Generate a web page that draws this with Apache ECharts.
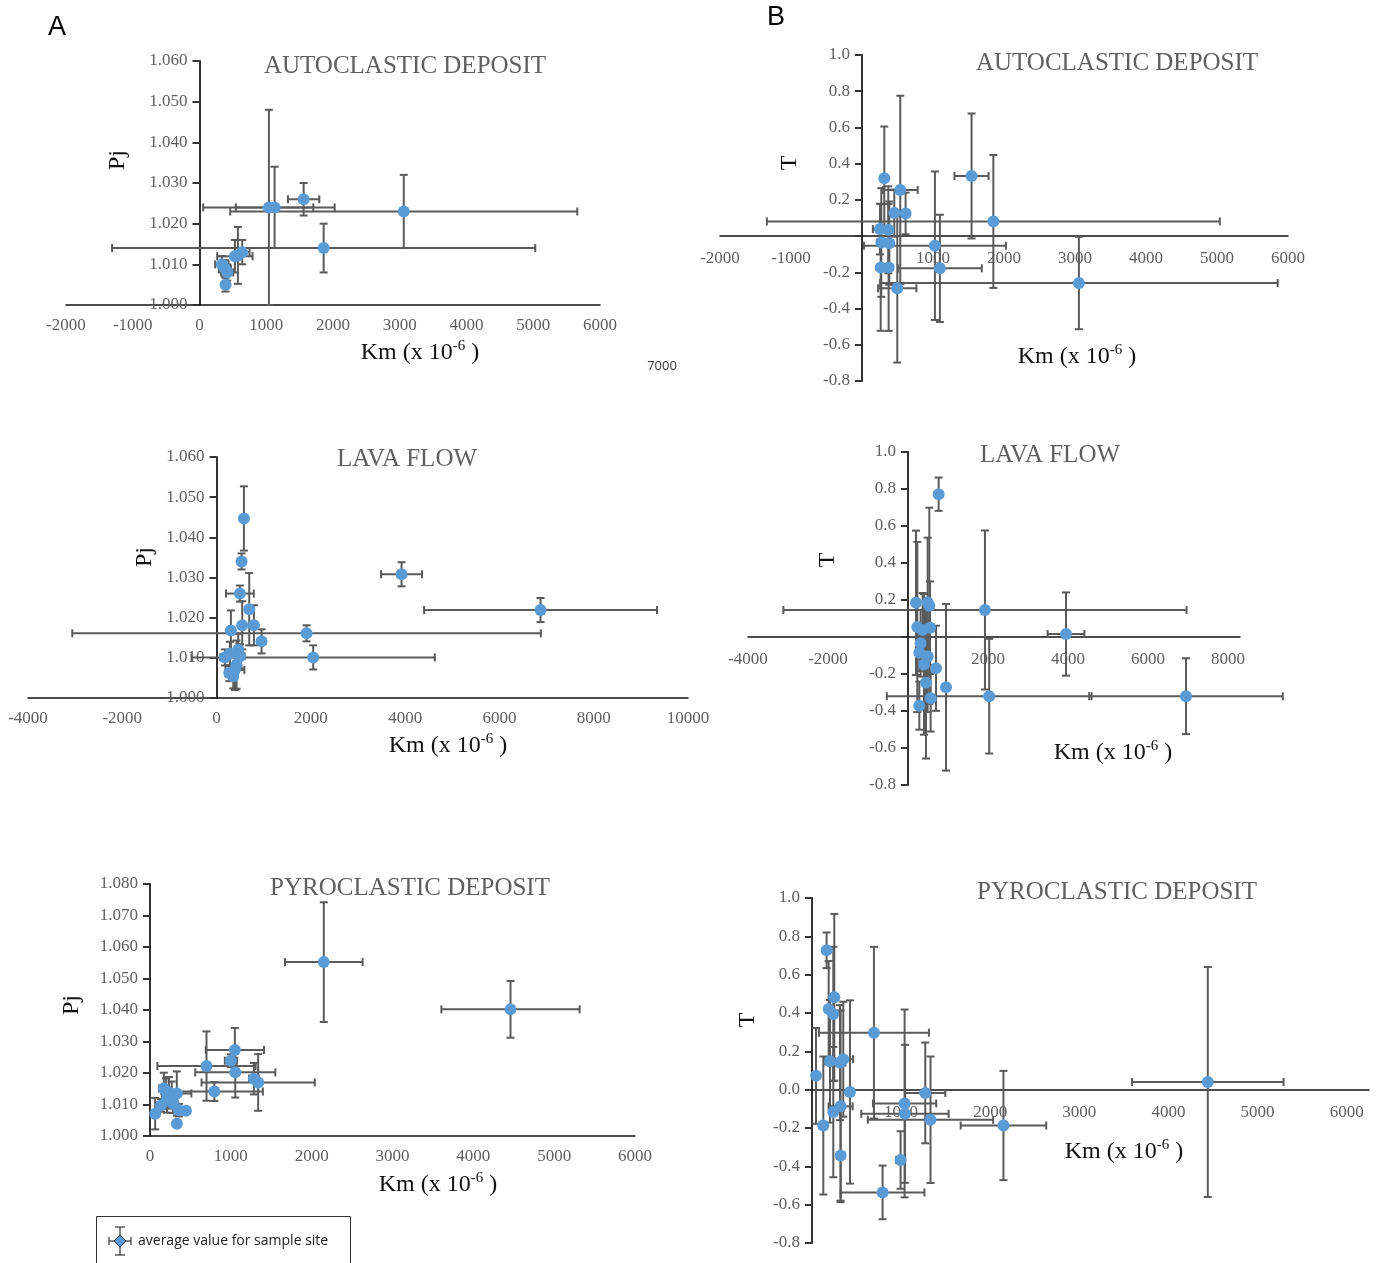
<!DOCTYPE html>
<html><head><meta charset="utf-8">
<script src="https://cdn.jsdelivr.net/npm/echarts@6/dist/echarts.min.js"></script>
<style>html,body{margin:0;padding:0;background:#fff}#c{width:1384px;height:1263px}</style>
</head><body><div id="c"></div>
<script>
// ---------- DATA ----------
// Autoclastic deposit, Pj vs Km
const autoPjKm     = [1040, 1125, 1560, 1860, 3060, 335, 380, 415, 390, 530, 575, 640];
const autoPjKmErr  = [985, 580, 235, 3170, 2600, 100, 90, 90, 40, 265, 60, 110];
const autoPjVal    = [1.024, 1.024, 1.026, 1.014, 1.023, 1.010, 1.009, 1.008, 1.005, 1.012, 1.0122, 1.013];
const autoPjValErr = [0.024, 0.010, 0.004, 0.006, 0.009, 0.002, 0.002, 0.002, 0.0017, 0.004, 0.007, 0.003];
// Autoclastic deposit, T vs Km
const autoTKm     = [314, 539, 455, 614, 253, 370, 272, 385, 1027, 1097, 263, 375, 497, 1543, 1850, 3055];
const autoTKmErr  = [40, 245, 60, 40, 100, 40, 60, 50, 1000, 590, 20, 20, 270, 240, 3190, 2800];
const autoTVal    = [0.320, 0.255, 0.127, 0.125, 0.039, 0.035, -0.035, -0.039, -0.053, -0.178, -0.173, -0.173, -0.288, 0.332, 0.081, -0.259];
const autoTValErr = [0.285, 0.52, 0.13, 0.115, 0.14, 0.24, 0.30, 0.23, 0.41, 0.296, 0.35, 0.35, 0.41, 0.345, 0.367, 0.255];
// Lava flow, Pj vs Km
const lavaPjKm     = [580, 530, 495, 693, 304, 544, 792, 954, 1909, 2050, 177, 283, 460, 495, 269, 389, 354, 424, 3924, 6872];
const lavaPjKmErr  = [40, 40, 295, 60, 60, 60, 60, 80, 4970, 2580, 100, 80, 60, 100, 80, 200, 60, 60, 435, 2470];
const lavaPjVal    = [1.0447, 1.034, 1.026, 1.0221, 1.0168, 1.0181, 1.0181, 1.0141, 1.0161, 1.0101, 1.0101, 1.011, 1.012, 1.0104, 1.0062, 1.007, 1.0054, 1.0083, 1.0308, 1.0219];
const lavaPjValErr = [0.008, 0.002, 0.002, 0.009, 0.005, 0.006, 0.005, 0.003, 0.002, 0.003, 0.002, 0.003, 0.004, 0.003, 0.002, 0.005, 0.003, 0.006, 0.003, 0.003];
// Lava flow, T vs Km
const lavaTKm     = [766, 200, 491, 533, 1924, 233, 366, 550, 316, 283, 491, 400, 700, 450, 950, 566, 283, 2030, 6950, 3950];
const lavaTKmErr  = [60, 40, 40, 40, 5040, 60, 60, 100, 60, 60, 60, 60, 60, 60, 60, 60, 40, 2560, 2420, 460];
const lavaTVal    = [0.772, 0.185, 0.187, 0.169, 0.146, 0.054, 0.038, 0.05, -0.034, -0.085, -0.106, -0.148, -0.169, -0.247, -0.272, -0.331, -0.371, -0.32, -0.32, 0.016];
const lavaTValErr = [0.09, 0.39, 0.35, 0.53, 0.43, 0.46, 0.2, 0.25, 0.18, 0.1, 0.3, 0.38, 0.23, 0.41, 0.45, 0.18, 0.13, 0.31, 0.205, 0.225];
// Pyroclastic deposit, Pj vs Km
const pyroPjKm     = [2150, 4460, 1050, 1001, 699, 1055, 1285, 1338, 796, 171, 200, 234, 269, 332, 137, 64, 210, 283, 332, 357, 445];
const pyroPjKmErr  = [480, 855, 360, 75, 608, 495, 60, 700, 600, 60, 60, 60, 60, 180, 60, 40, 60, 60, 30, 40, 40];
const pyroPjVal    = [1.0552, 1.0402, 1.0273, 1.0239, 1.0222, 1.0202, 1.0182, 1.017, 1.0141, 1.0151, 1.0143, 1.0137, 1.0133, 1.0135, 1.0097, 1.0071, 1.0114, 1.0103, 1.0039, 1.0082, 1.008];
const pyroPjValErr = [0.019, 0.009, 0.007, 0.002, 0.011, 0.008, 0.005, 0.009, 0.003, 0.005, 0.004, 0.005, 0.004, 0.007, 0.002, 0.005, 0.004, 0.003, 0.001, 0.002, 0.001];
// Pyroclastic deposit, T vs Km
const pyroTKm     = [164, 250, 187, 239, 695, 45, 202, 314, 351, 426, 239, 321, 127, 321, 792, 994, 1039, 1043, 1271, 1330, 2148, 4441];
const pyroTKmErr  = [30, 40, 40, 40, 617, 30, 60, 60, 110, 40, 40, 135, 40, 40, 470, 50, 355, 490, 225, 703, 480, 850];
const pyroTVal    = [0.727, 0.482, 0.421, 0.395, 0.297, 0.072, 0.148, 0.141, 0.159, -0.012, -0.117, -0.087, -0.187, -0.344, -0.536, -0.367, -0.072, -0.126, -0.017, -0.157, -0.187, 0.040];
const pyroTValErr = [0.093, 0.435, 0.25, 0.35, 0.448, 0.25, 0.32, 0.3, 0.3, 0.478, 0.34, 0.5, 0.36, 0.235, 0.14, 0.15, 0.49, 0.36, 0.263, 0.33, 0.285, 0.6];

const titles = ['AUTOCLASTIC DEPOSIT', 'AUTOCLASTIC DEPOSIT', 'LAVA FLOW', 'LAVA FLOW', 'PYROCLASTIC DEPOSIT', 'PYROCLASTIC DEPOSIT'];
const yNames = ['Pj', 'T', 'Pj', 'T', 'Pj', 'T'];
const legendText = 'average value for sample site';

// ---------- LAYOUT ----------
const SERIF = '"Liberation Serif","DejaVu Serif",serif';
const panels = [
  {km: autoPjKm, ke: autoPjKmErr, v: autoPjVal, ve: autoPjValErr, grid: {left: 66, top: 61, width: 534, height: 244},
   x: [-2000, 6000, 1000], y: [1.000, 1.060, 0.010], dec: 3, hideX0: false, hideY0: false, xCross: false,
   title: [405, 66], yName: [118, 160], xName: [420, 353]},
  {km: autoTKm, ke: autoTKmErr, v: autoTVal, ve: autoTValErr, grid: {left: 720, top: 55, width: 568, height: 326},
   x: [-2000, 6000, 1000], y: [-0.8, 1.0, 0.2], dec: 1, hideX0: true, hideY0: true, xCross: true,
   title: [1117, 63], yName: [790, 163], xName: [1077, 357]},
  {km: lavaPjKm, ke: lavaPjKmErr, v: lavaPjVal, ve: lavaPjValErr, grid: {left: 28, top: 457, width: 660, height: 241},
   x: [-4000, 10000, 2000], y: [1.000, 1.060, 0.010], dec: 3, hideX0: false, hideY0: false, xCross: false,
   title: [407, 459], yName: [145, 557], xName: [448, 746]},
  {km: lavaTKm, ke: lavaTKmErr, v: lavaTVal, ve: lavaTValErr, grid: {left: 748, top: 452, width: 492, height: 333},
   x: [-4000, 8300, 2000], y: [-0.8, 1.0, 0.2], dec: 1, hideX0: true, hideY0: true, xCross: true,
   title: [1050, 455], yName: [828, 560], xName: [1113, 753]},
  {km: pyroPjKm, ke: pyroPjKmErr, v: pyroPjVal, ve: pyroPjValErr, grid: {left: 150, top: 884, width: 485, height: 252},
   x: [0, 6000, 1000], y: [1.000, 1.080, 0.010], dec: 3, hideX0: false, hideY0: false, xCross: false,
   title: [410, 888], yName: [72, 1005], xName: [438, 1185]},
  {km: pyroTKm, ke: pyroTKmErr, v: pyroTVal, ve: pyroTValErr, grid: {left: 812, top: 898, width: 557, height: 345},
   x: [0, 6250, 1000], y: [-0.8, 1.0, 0.2], dec: 1, hideX0: true, hideY0: false, xCross: true,
   title: [1117, 892], yName: [748, 1020], xName: [1124, 1152]}
];

function errRender(params, api) {
  const x = api.value(0), y = api.value(1), ex = api.value(2), ey = api.value(3);
  const L = api.coord([x - ex, y]), R = api.coord([x + ex, y]);
  const T = api.coord([x, y + ey]), B = api.coord([x, y - ey]);
  const st = {stroke: '#5a5a5a', lineWidth: 2};
  const c = 4;
  const ln = (x1, y1, x2, y2) => ({type: 'line', shape: {x1, y1, x2, y2}, style: st});
  return {type: 'group', children: [
    ln(L[0], L[1], R[0], R[1]), ln(L[0], L[1] - c, L[0], L[1] + c), ln(R[0], R[1] - c, R[0], R[1] + c),
    ln(T[0], T[1], B[0], B[1]), ln(T[0] - c, T[1], T[0] + c, T[1]), ln(B[0] - c, B[1], B[0] + c, B[1])
  ]};
}

const grids = [], xAxes = [], yAxes = [], series = [], graphics = [];
panels.forEach((p, i) => {
  grids.push(Object.assign({containLabel: false, outerBoundsMode: 'none'}, p.grid));
  const xi = p.x[2];
  // y axis sits at Km = 0, x axis at T = 0 (for T panels): shift axes inward with offset
  const yOff = -((0 - p.x[0]) / (p.x[1] - p.x[0])) * p.grid.width;
  const xOff = p.xCross ? -((0 - p.y[0]) / (p.y[1] - p.y[0])) * p.grid.height : 0;
  xAxes.push({
    type: 'value', gridIndex: i, min: p.x[0], max: p.x[1], interval: xi, position: 'bottom', offset: xOff,
    axisLine: {onZero: false, lineStyle: {color: '#111', width: 1.5}},
    axisTick: {show: false}, splitLine: {show: false},
    axisLabel: {color: '#5f5f5f', fontFamily: SERIF, fontSize: 17, margin: p.xCross ? 14 : 12,
      showMinLabel: true, showMaxLabel: true,
      formatter: v => (Math.abs(v % xi) > 1e-6 || (p.hideX0 && v === 0)) ? '' : String(v)}
  });
  yAxes.push({
    type: 'value', gridIndex: i, min: p.y[0], max: p.y[1], interval: p.y[2], position: 'left', offset: yOff,
    axisLine: {onZero: false, lineStyle: {color: '#333', width: 2}},
    axisTick: {show: true, length: 7, lineStyle: {color: '#333', width: 2}},
    splitLine: {show: false},
    axisLabel: {color: '#5f5f5f', fontFamily: SERIF, fontSize: 17, margin: 12,
      formatter: v => (p.hideY0 && Math.abs(v) < 1e-9) ? '' : (Math.abs(v) < 1e-9 ? (0).toFixed(p.dec) : v.toFixed(p.dec))}
  });
  const data = p.km.map((k, j) => [k, p.v[j], p.ke[j], p.ve[j]]);
  series.push({type: 'custom', xAxisIndex: i, yAxisIndex: i, renderItem: errRender, clip: false,
    encode: {x: 0, y: 1}, data: data, z: 2, silent: true});
  series.push({type: 'scatter', xAxisIndex: i, yAxisIndex: i, symbol: 'circle', symbolSize: 12, clip: false,
    itemStyle: {color: '#5b9bd5', opacity: 1}, data: p.km.map((k, j) => [k, p.v[j]]), z: 3, silent: true});

  graphics.push({type: 'text', x: p.title[0], y: p.title[1], z: 10,
    style: {text: titles[i], font: '25px ' + SERIF, fill: '#5f5f5f', align: 'center', verticalAlign: 'middle', textAlign: 'center', textVerticalAlign: 'middle'}});
  graphics.push({type: 'text', x: p.yName[0], y: p.yName[1], rotation: Math.PI / 2, z: 10,
    style: {text: yNames[i], font: '24px ' + SERIF, fill: '#111', align: 'center', verticalAlign: 'middle', textAlign: 'center', textVerticalAlign: 'middle'}});
  graphics.push({type: 'text', x: p.xName[0], y: p.xName[1], z: 10,
    style: {text: '{a|Km (x 10}{s|-6}{a| )}', align: 'center', verticalAlign: 'middle', textAlign: 'center', textVerticalAlign: 'middle',
      rich: {a: {fontFamily: SERIF, fontSize: 24, fill: '#111', color: '#111', lineHeight: 28},
             s: {fontFamily: SERIF, fontSize: 15, fill: '#111', color: '#111', lineHeight: 12, verticalAlign: 'top'}}}});
});

graphics.push({type: 'text', x: 57, y: 28, style: {text: 'A', font: '27px "Liberation Sans",Arial,sans-serif', fill: '#000', align: 'center', verticalAlign: 'middle', textAlign: 'center', textVerticalAlign: 'middle'}});
graphics.push({type: 'text', x: 776, y: 18, style: {text: 'B', font: '27px "Liberation Sans",Arial,sans-serif', fill: '#000', align: 'center', verticalAlign: 'middle', textAlign: 'center', textVerticalAlign: 'middle'}});
graphics.push({type: 'text', x: 662, y: 366, style: {text: '7000', font: '13px "Open Sans",sans-serif', fill: '#333', align: 'center', verticalAlign: 'middle', textAlign: 'center', textVerticalAlign: 'middle'}});
// legend box
graphics.push({type: 'rect', shape: {x: 96.5, y: 1216.5, width: 254, height: 60}, style: {fill: 'none', stroke: '#333', lineWidth: 1}});
const lg = {stroke: '#333', lineWidth: 1.2};
graphics.push({type: 'line', shape: {x1: 120, y1: 1227, x2: 120, y2: 1255}, style: lg});
graphics.push({type: 'line', shape: {x1: 115, y1: 1227, x2: 125, y2: 1227}, style: lg});
graphics.push({type: 'line', shape: {x1: 115, y1: 1255, x2: 125, y2: 1255}, style: lg});
graphics.push({type: 'line', shape: {x1: 109, y1: 1241, x2: 131, y2: 1241}, style: lg});
graphics.push({type: 'line', shape: {x1: 109, y1: 1237, x2: 109, y2: 1245}, style: lg});
graphics.push({type: 'line', shape: {x1: 131, y1: 1237, x2: 131, y2: 1245}, style: lg});
graphics.push({type: 'polygon', shape: {points: [[120, 1235], [126, 1241], [120, 1247], [114, 1241]]}, style: {fill: '#5b9bd5', stroke: '#333', lineWidth: 1}});
graphics.push({type: 'text', x: 138, y: 1241, style: {text: legendText, font: '14px "Open Sans",sans-serif', fill: '#222', align: 'left', verticalAlign: 'middle', textAlign: 'left', textVerticalAlign: 'middle'}});

const chart = echarts.init(document.getElementById('c'), null, {renderer: 'canvas'});
chart.setOption({
  animation: false,
  backgroundColor: '#fff',
  grid: grids, xAxis: xAxes, yAxis: yAxes, series: series,
  graphic: {elements: graphics}
});
</script></body></html>
